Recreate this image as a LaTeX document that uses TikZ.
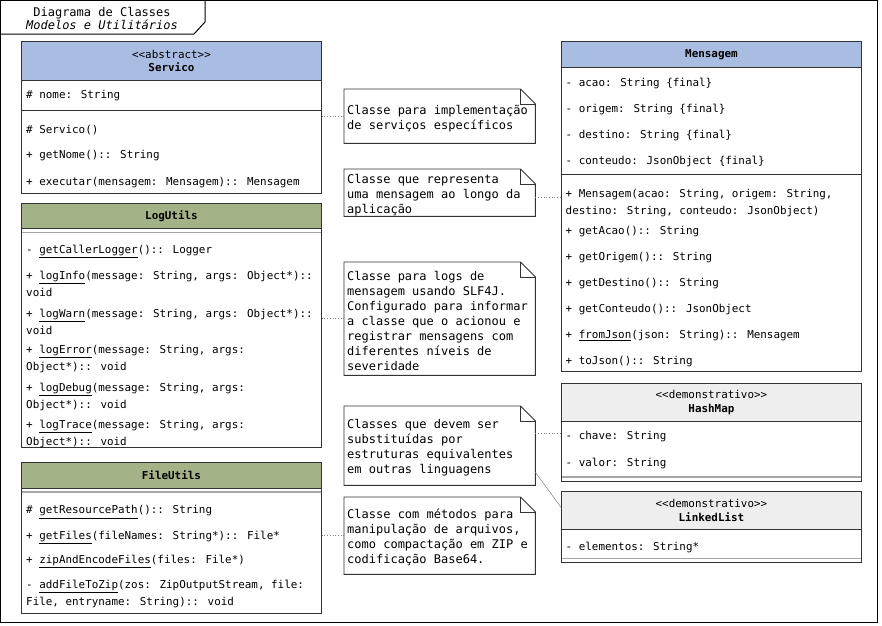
\documentclass[tikz,border=0pt]{standalone}
\usepackage{fontspec}
\setmainfont{DejaVu Sans Mono}[BoldFont={DejaVu Sans Mono Bold},ItalicFont={DejaVu Sans Mono Oblique}]
\usepackage{xcolor}
\usetikzlibrary{positioning}

\definecolor{headblue}{HTML}{A9BCE2}
\definecolor{headolive}{HTML}{A4B287}
\definecolor{headgray}{HTML}{EEEEEE}
\definecolor{boxline}{HTML}{333333}
\definecolor{linkgray}{HTML}{808080}

% outline of a note with its folded corner
\newcommand{\notefold}[1]{%
  \draw[draw=boxline, line width=0.9pt] (#1.north west) -- ([xshift=-15pt]#1.north east) -- ([yshift=-15pt]#1.north east) -- (#1.south east) -- (#1.south west) -- cycle;
  \draw[draw=boxline, line width=0.9pt] ([xshift=-15pt]#1.north east) |- ([yshift=-15pt]#1.north east);}

\begin{document}
\begin{tikzpicture}[x=1pt, y=-1pt,
    classbox/.style={draw=boxline, line width=0.9pt, fill=white, anchor=north west, minimum width=300pt, inner sep=0pt},
    classhead/.style={draw=boxline, line width=0.9pt, anchor=north west, minimum width=300pt, inner sep=0pt, align=center, font=\fontsize{10.9}{13.5}\selectfont},
    member/.style={anchor=west, inner sep=0pt, yshift=-2pt, align=left, font=\fontsize{10.9}{17}\selectfont},
    sepline/.style={draw=boxline, line width=0.9pt},
    emptysep/.style={draw=gray!70, line width=1.2pt},
    notebox/.style={anchor=north west, minimum width=191pt, inner sep=0pt},
    notetext/.style={anchor=west, inner xsep=3pt, inner ysep=0pt, yshift=-2pt, align=left, font=\fontsize{12}{15}\selectfont},
    link/.style={draw=linkgray, line width=0.7pt, dotted}]
  \useasboundingbox (0,0) rectangle (882,625);

  % frame and title tab
  \draw[line width=1.2pt] (0.6,0.6) rectangle (877.4,622.4);
  \draw[line width=1pt] (0.6,34) -- (194,34) -- (205,22) -- (205,0.6);
  \node[align=center, inner sep=0pt, font=\fontsize{12}{13.5}\selectfont] (title) at (102,18.5) {Diagrama de Classes\\\textit{Modelos e Utilitários}};

  % Servico
  \node[classbox, minimum height=152pt] (servico) at (21,41) {};
  \node[classhead, fill=headblue, minimum height=39pt] (servicoHead) at (servico.north west) {<\kern0pt<abstract>\kern0pt>\\\textbf{Servico}};
  \draw[sepline] (21,110) -- (321,110);
  \node[member] (servicoA1) at (26,94) {\# nome: String};
  \node[member] (servicoM1) at (26,128) {\# Servico()};
  \node[member] (servicoM2) at (26,154) {+ getNome():: String};
  \node[member] (servicoM3) at (26,181) {+ executar(mensagem: Mensagem):: Mensagem};

  % LogUtils
  \node[classbox, minimum height=244pt] (logutils) at (21,203) {};
  \node[classhead, fill=headolive, minimum height=25pt] (logutilsHead) at (logutils.north west) {\textbf{LogUtils}};
  \draw[emptysep] (21.5,232.5) -- (320.5,232.5);
  \node[member] (logutilsM1) at (26,249) {- \underline{getCallerLogger}():: Logger};
  \node[member] (logutilsM2) at (26,281.5) {+ \underline{logInfo}(message: String, args: Object*)::\\void};
  \node[member] (logutilsM3) at (26,319.5) {+ \underline{logWarn}(message: String, args: Object*)::\\void};
  \node[member] (logutilsM4) at (26,357) {+ \underline{logError}(message: String, args:\\Object*):: void};
  \node[member] (logutilsM5) at (26,394.5) {+ \underline{logDebug}(message: String, args:\\Object*):: void};
  \node[member] (logutilsM6) at (26,431.5) {+ \underline{logTrace}(message: String, args:\\Object*):: void};

  % FileUtils
  \node[classbox, minimum height=151pt] (fileutils) at (21,462) {};
  \node[classhead, fill=headolive, minimum height=26pt] (fileutilsHead) at (fileutils.north west) {\textbf{FileUtils}};
  \draw[emptysep] (21.5,492) -- (320.5,492);
  \node[member] (fileutilsM1) at (26,510) {\# \underline{getResourcePath}():: String};
  \node[member] (fileutilsM2) at (26,535) {+ \underline{getFiles}(fileNames: String*):: File*};
  \node[member] (fileutilsM3) at (26,559) {+ \underline{zipAndEncodeFiles}(files: File*)};
  \node[member] (fileutilsM4) at (26,592) {- \underline{addFileToZip}(zos: ZipOutputStream, file:\\File, entryname: String):: void};

  % Mensagem
  \node[classbox, minimum height=330pt] (mensagem) at (561,41) {};
  \node[classhead, fill=headblue, minimum height=26pt] (mensagemHead) at (mensagem.north west) {\textbf{Mensagem}};
  \draw[sepline] (561,174) -- (861,174);
  \node[member] (mensagemA1) at (565.5,81) {- acao: String \{final\}};
  \node[member] (mensagemA2) at (565.5,107) {- origem: String \{final\}};
  \node[member] (mensagemA3) at (565.5,133) {- destino: String \{final\}};
  \node[member] (mensagemA4) at (565.5,159) {- conteudo: JsonObject \{final\}};
  \node[member] (mensagemM1) at (565.5,201.5) {+ Mensagem(acao: String, origem: String,\\destino: String, conteudo: JsonObject)};
  \node[member] (mensagemM2) at (565.5,230) {+ getAcao():: String};
  \node[member] (mensagemM3) at (565.5,256) {+ getOrigem():: String};
  \node[member] (mensagemM4) at (565.5,282) {+ getDestino():: String};
  \node[member] (mensagemM5) at (565.5,308) {+ getConteudo():: JsonObject};
  \node[member] (mensagemM6) at (565.5,334) {+ \underline{fromJson}(json: String):: Mensagem};
  \node[member] (mensagemM7) at (565.5,360) {+ toJson():: String};

  % HashMap
  \node[classbox, minimum height=98pt] (hashmap) at (561,383) {};
  \node[classhead, fill=headgray, minimum height=38pt] (hashmapHead) at (hashmap.north west) {<\kern0pt<demonstrativo>\kern0pt>\\\textbf{HashMap}};
  \draw[emptysep] (561.5,477) -- (860.5,477);
  \node[member] (hashmapA1) at (565.5,435) {- chave: String};
  \node[member] (hashmapA2) at (565.5,461) {- valor: String};

  % LinkedList
  \node[classbox, minimum height=71pt] (linkedlist) at (561,491) {};
  \node[classhead, fill=headgray, minimum height=38pt] (linkedlistHead) at (linkedlist.north west) {<\kern0pt<demonstrativo>\kern0pt>\\\textbf{LinkedList}};
  \draw[emptysep] (561.5,558.5) -- (860.5,558.5);
  \node[member] (linkedlistA1) at (565.5,545) {- elementos: String*};

  % notes
  \node[notebox, minimum height=54pt] (note1) at (344,89) {};
  \notefold{note1}
  \node[notetext] (note1text) at (note1.west) {Classe para implementação\\de serviços específicos};
  \node[notebox, minimum height=47pt] (note2) at (344,169) {};
  \notefold{note2}
  \node[notetext] (note2text) at (note2.west) {Classe que representa\\uma mensagem ao longo da\\aplicação};
  \node[notebox, minimum height=113pt] (note3) at (344,262) {};
  \notefold{note3}
  \node[notetext] (note3text) at (note3.west) {Classe para logs de\\mensagem usando SLF4J.\\Configurado para informar\\a classe que o acionou e\\registrar mensagens com\\diferentes níveis de\\severidade};
  \node[notebox, minimum height=79pt] (note4) at (344,406) {};
  \notefold{note4}
  \node[notetext] (note4text) at (note4.west) {Classes que devem ser\\substituídas por\\estruturas equivalentes\\em outras linguagens};
  \node[notebox, minimum height=77pt] (note5) at (344,497) {};
  \notefold{note5}
  \node[notetext] (note5text) at (note5.west) {Classe com métodos para\\manipulação de arquivos,\\como compactação em ZIP e\\codificação Base64.};

  % links from notes
  \draw[link] (note1.west) -- (note1.west -| servico.east);
  \coordinate (note2port) at ([yshift=-4.5pt]note2.east);
  \draw[link] (note2port) -- (note2port -| mensagem.west);
  \draw[link] (note3.west) -- (note3.west -| logutils.east);
  \coordinate (note4port) at ([yshift=12.5pt]note4.east);
  \draw[link] (note4port) -- (note4port -| hashmap.west);
  \coordinate (note4low) at ([yshift=-26.5pt]note4.east);
  \coordinate (linkedlistport) at ([yshift=19.5pt]linkedlist.west);
  \draw[link, solid, line width=0.5pt] (note4low) -- (linkedlistport);
  \draw[link] (note5.west) -- (note5.west -| fileutils.east);
\end{tikzpicture}
\end{document}
